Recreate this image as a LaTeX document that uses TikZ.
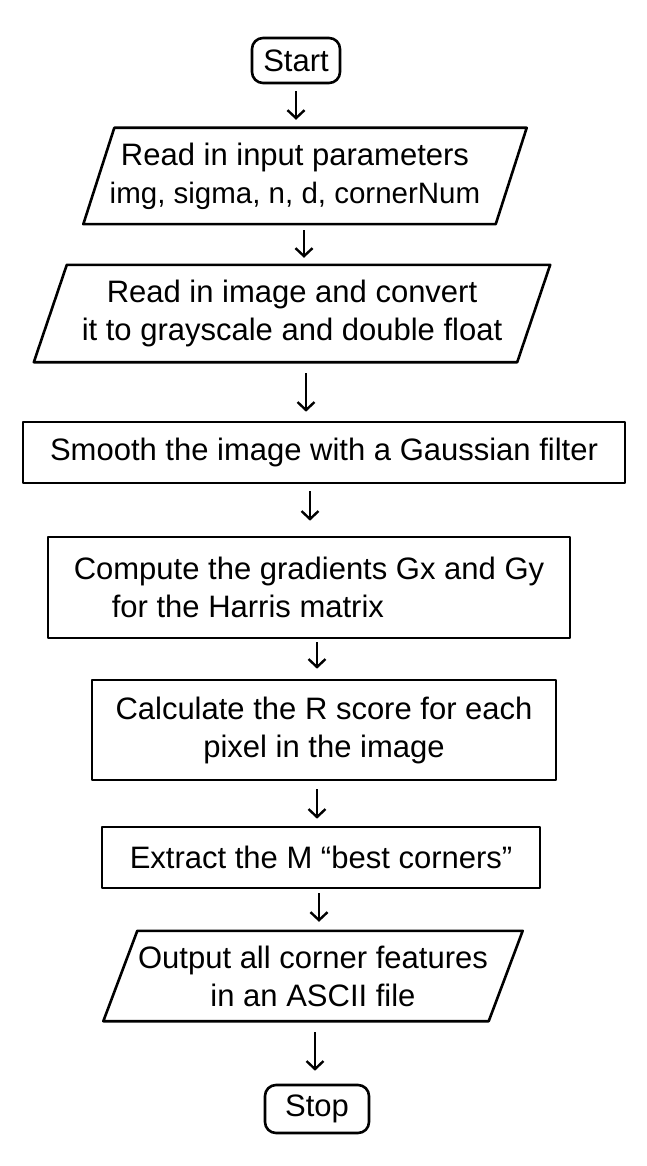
\documentclass[tikz,border=0pt]{standalone}
\usepackage{fontspec}
\setmainfont{Liberation Sans}
\usetikzlibrary{arrows.meta}
\begin{document}
\begin{tikzpicture}[x=1pt,y=-1pt,
  every node/.style={font=\fontsize{31}{38}\selectfont, inner sep=0pt, align=center},
  boxline/.style={draw, line width=2.6pt, line join=round},
  term/.style={boxline, rounded corners=11pt},
  proc/.style={boxline},
  iobox/.style={draw=none},
  pline/.style={line width=2.6pt, line join=round},
  arr/.style={line width=2.4pt, -{Straight Barb[length=8pt,width=17pt]}, shorten <=7pt, shorten >=8pt}]
\fill[white] (0,0) rectangle (646,1166);
\useasboundingbox (0,0) rectangle (646,1166);

\node[term, minimum width=88pt, minimum height=45pt] (start) at (296,60.5) {Start};

\node[iobox, minimum width=412pt, minimum height=96pt] (p1) at (295,176) {Read in input parameters\\{\fontsize{29.5}{38}\selectfont img, sigma, n, d, cornerNum}};
\draw[pline] ([xshift=25.5pt]p1.north west) -- ([xshift=25.5pt]p1.north east) -- ([xshift=-5.5pt]p1.south east) -- ([xshift=-5.5pt]p1.south west) -- cycle;

\node[iobox, minimum width=483pt, minimum height=97pt] (p2) at (292,313.5) {Read in image and convert\\it to grayscale and double float};
\draw[pline] ([xshift=16.5pt]p2.north west) -- ([xshift=16.5pt]p2.north east) -- ([xshift=-16.5pt]p2.south east) -- ([xshift=-16.5pt]p2.south west) -- cycle;

\node[proc, minimum width=602pt, minimum height=61pt] (r3) at (324,452.5) {Smooth the image with a Gaussian filter};

\node[proc, minimum width=522pt, minimum height=101pt, align=left] (r4) at (309,587.5) {Compute the gradients Gx and Gy\\\hspace*{38pt}for the Harris matrix};

\node[proc, minimum width=464pt, minimum height=100pt] (r5) at (324,730) {Calculate the R score for each\\pixel in the image};

\node[proc, minimum width=438pt, minimum height=61pt] (r6) at (321,857.5) {Extract the M “best corners”};

\node[iobox, minimum width=385pt, minimum height=90pt] (p7) at (313,976) {Output all corner features\\in an ASCII file};
\draw[pline] ([xshift=17pt]p7.north west) -- ([xshift=17pt]p7.north east) -- ([xshift=-17pt]p7.south east) -- ([xshift=-17pt]p7.south west) -- cycle;

\node[term, minimum width=104pt, minimum height=48pt] (stop) at (317,1109) {Stop};

\draw[arr] (start.south) -- (start.south |- p1.north);
\draw[arr, shorten <=6pt, shorten >=7pt] ([xshift=9pt]p1.south) -- ([xshift=9pt]p1.south |- p2.north);
\draw[arr, shorten <=11pt, shorten >=9pt] ([xshift=14pt]p2.south) -- ([xshift=14pt]p2.south |- r3.north);
\draw[arr, shorten <=7pt, shorten >=15pt] ([xshift=-14pt]r3.south) -- ([xshift=-14pt]r3.south |- r4.north);
\draw[arr, shorten <=3pt, shorten >=10pt] ([xshift=8pt]r4.south) -- ([xshift=8pt]r4.south |- r5.north);
\draw[arr, shorten <=8pt, shorten >=7pt] ([xshift=-7pt]r5.south) -- ([xshift=-7pt]r5.south |- r6.north);
\draw[arr, shorten <=4pt, shorten >=9pt] ([xshift=-2pt]r6.south) -- ([xshift=-2pt]r6.south |- p7.north);
\draw[arr, shorten <=11pt, shorten >=13pt] ([xshift=2pt]p7.south) -- ([xshift=2pt]p7.south |- stop.north);
\end{tikzpicture}
\end{document}
